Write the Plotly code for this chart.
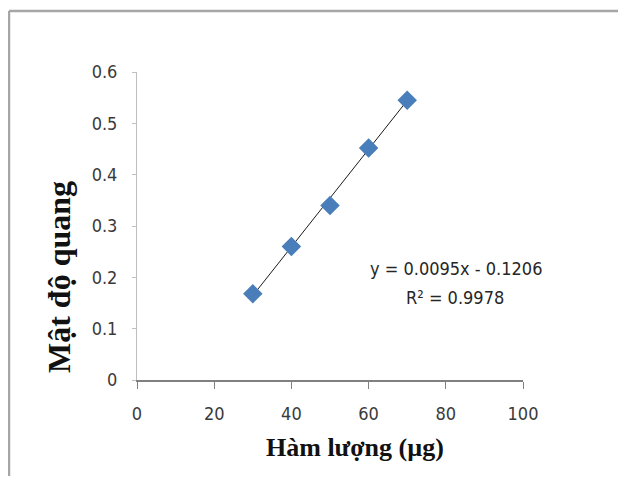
import plotly.graph_objects as go

# Data
ham_luong = [30, 40, 50, 60, 70]
mat_do_quang = [0.168, 0.26, 0.34, 0.452, 0.545]
slope = 0.0095
intercept = -0.1206
r2 = 0.9978
x_ticks = [0, 20, 40, 60, 80, 100]
y_ticks = [0, 0.1, 0.2, 0.3, 0.4, 0.5, 0.6]
y_tick_labels = ["0", "0.1", "0.2", "0.3", "0.4", "0.5", "0.6"]

trend_x = [min(ham_luong), max(ham_luong)]
trend_y = [slope * v + intercept for v in trend_x]

OFF = 8  # page body margin
W, H = 626 - 2 * OFF, 484 - 2 * OFF
L, T = 137 - OFF, 72 - OFF
pw, ph = 386, 308
R = W - L - pw
B = H - T - ph

def px(xs):
    # screen x -> paper
    return (xs - OFF - L) / pw

def py(ys):
    # screen y -> paper
    return (T + ph - (ys - OFF)) / ph

tick_font = dict(family="DejaVu Sans Condensed, DejaVu Sans, sans-serif", size=18, color="#3a3a3a")
title_font = dict(family="Liberation Serif, Times New Roman, serif", size=26, color="#111111")

fig = go.Figure()
fig.add_trace(go.Scatter(x=trend_x, y=trend_y, mode="lines",
                         line=dict(color="#1a1a1a", width=1), showlegend=False, hoverinfo="skip"))
fig.add_trace(go.Scatter(x=ham_luong, y=mat_do_quang, mode="markers",
                         marker=dict(symbol="diamond", size=15, color="#4A7EBB"),
                         showlegend=False))

fig.update_layout(
    width=W, height=H,
    margin=dict(l=L, r=R, t=T, b=B, pad=0, autoexpand=False),
    paper_bgcolor="white", plot_bgcolor="white",
    xaxis=dict(range=[0, 100], tickvals=x_ticks, showgrid=False, zeroline=False,
               showline=True, linecolor="#808080", linewidth=1.5, automargin=False,
               ticks="outside", ticklen=7, tickcolor="#808080", tickfont=tick_font,
               ticklabelstandoff=10),
    yaxis=dict(range=[0, 0.6], tickvals=y_ticks, ticktext=y_tick_labels, showgrid=False, zeroline=False,
               showline=True, linecolor="#BFBFBF", linewidth=1, automargin=False,
               ticks="outside", ticklen=4, tickcolor="#BFBFBF", tickfont=tick_font,
               ticklabelstandoff=11),
    shapes=[
        dict(type="line", xref="paper", yref="paper", x0=px(9), x1=px(640), y0=py(11), y1=py(11),
             line=dict(color="#A6A6A6", width=2.5), layer="above"),
        dict(type="line", xref="paper", yref="paper", x0=px(9), x1=px(9), y0=py(11), y1=py(500),
             line=dict(color="#A6A6A6", width=2.5), layer="above"),
    ],
    annotations=[
        dict(text="<b>Mật độ quang</b>", xref="paper", yref="paper", x=px(59), y=py(277),
             textangle=-90, showarrow=False, font=dict(title_font, size=32),
             xanchor="center", yanchor="middle"),
        dict(text="<b>Hàm lượng (µg)</b>", xref="paper", yref="paper", x=px(355), y=py(447),
             showarrow=False, font=title_font, xanchor="center", yanchor="middle"),
        dict(text=f"y = {slope}x - {abs(intercept)}", xref="paper", yref="paper", x=px(456), y=py(268),
             showarrow=False, font=dict(tick_font, color="#262626"),
             xanchor="center", yanchor="middle"),
        dict(text=f"R² = {r2}", xref="paper", yref="paper", x=px(455), y=py(297),
             showarrow=False, font=dict(tick_font, color="#262626"),
             xanchor="center", yanchor="middle"),
    ],
)

fig.write_html("out.html")
